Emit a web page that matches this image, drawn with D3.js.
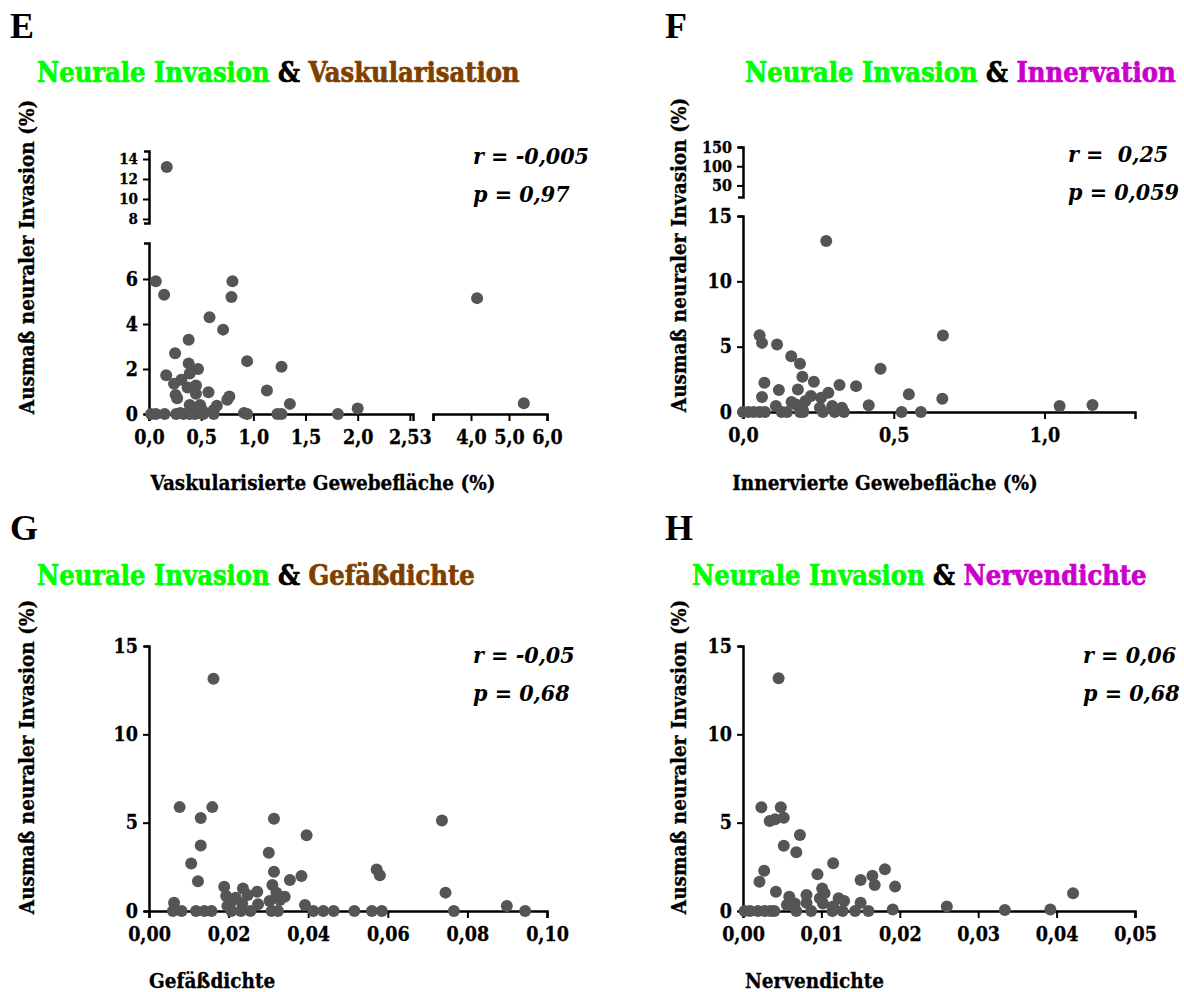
<!DOCTYPE html>
<html>
<head>
<meta charset="utf-8">
<script src="https://cdn.jsdelivr.net/npm/d3@7"></script>
<style>
  body { margin: 0; background: #fff; }
  svg text { font-family: 'DejaVu Serif Condensed', 'DejaVu Serif', serif; font-weight: bold; font-stretch: condensed; }
</style>
</head>
<body>
<svg id="chart" width="1184" height="992"></svg>
<script>
// E: Vaskularisierte Gewebeflaeche (%) vs. Ausmass neuraler Invasion (%)
var vaskX = [0.065, 0.145, 0.80, 0.79, 0.58, 0.71, 0.38, 0.25, 0.38, 0.47, 0.39, 0.94, 1.27, 0.165, 0.31, 0.24, 0.45, 0.37, 0.255, 0.27,
             0.45, 0.57, 1.13, 0.77, 0.75, 1.35, 0.65, 0.39, 0.49, 0.51, 0.62, 0.02, 0.065, 0.15, 0.26, 0.33, 0.39, 0.44, 0.52, 0.62,
             0.91, 0.94, 1.23, 1.27, 1.81, 0.30, 0.48, 2.0, 4.16, 5.39, 0.17];
var vaskY = [5.9, 5.3, 5.9, 5.2, 4.3, 3.75, 3.3, 2.7, 2.25, 2.0, 1.8, 2.35, 2.1, 1.72, 1.52, 1.34, 1.27, 1.18, 0.85, 0.7,
             0.9, 0.97, 1.04, 0.78, 0.63, 0.45, 0.37, 0.4, 0.4, 0.18, 0.18, 0, 0, 0, 0, 0, 0, 0, 0, 0,
             0.05, 0, 0, 0, 0, 0.05, 0.05, 0.25, 5.15, 0.48, 13.2];

// F: Innervierte Gewebeflaeche (%)
var innX = [0.276, 0.055, 0.063, 0.113, 0.663, 0.16, 0.189, 0.456, 0.197, 0.235, 0.071, 0.32, 0.375, 0.119, 0.182, 0.283, 0.55, 0.225, 0.259, 0.063,
            0.661, 0.161, 0.207, 0.109, 0.417, 1.05, 1.159, 0.296, 0.328, 0.255, 0.176, 0.198,
            0, 0.018, 0.036, 0.055, 0.073, 0.128, 0.146, 0.189, 0.2, 0.265, 0.304, 0.335, 0.526, 0.59];
var innY = [13.09, 5.87, 5.29, 5.16, 5.85, 4.27, 3.69, 3.31, 2.70, 2.31, 2.24, 2.06, 1.98, 1.68, 1.73, 1.47, 1.35, 1.22, 1.09, 1.14,
            1.02, 0.76, 0.84, 0.46, 0.51, 0.46, 0.53, 0.46, 0.33, 0.33, 0.58, 0.2,
            0, 0, 0, 0, 0, 0, 0, 0, 0, 0, 0, 0, 0, 0];

// G: Gefaessdichte
var gefX = [0.0162, 0.0077, 0.0159, 0.013, 0.0314, 0.0736, 0.0396, 0.013, 0.0301, 0.0106, 0.0314, 0.0572, 0.058, 0.0383, 0.0354, 0.0123, 0.031, 0.0189, 0.0236, 0.0272,
            0.0745, 0.0194, 0.0248, 0.0218, 0.0341, 0.032, 0.0303, 0.0329, 0.0274, 0.0205, 0.0234, 0.0197, 0.0063, 0.0392, 0.0899,
            0.006, 0.0082, 0.0118, 0.0139, 0.0157, 0.0207, 0.0231, 0.0255, 0.0308, 0.0324, 0.0413, 0.0438, 0.0464, 0.0516, 0.056, 0.0585, 0.0766, 0.0945];
var gefY = [13.14, 5.88, 5.88, 5.27, 5.22, 5.12, 4.29, 3.71, 3.30, 2.69, 2.22, 2.35, 2.03, 1.98, 1.75, 1.69, 1.47, 1.37, 1.28, 1.09,
            1.04, 0.85, 0.9, 0.75, 0.81, 1.04, 0.56, 0.62, 0.38, 0.47, 0.43, 0.28, 0.47, 0.34, 0.28,
            0, 0, 0, 0, 0, 0, 0, 0, 0, 0, 0, 0, 0, 0, 0, 0, 0, 0];

// H: Nervendichte
var nerX = [0.00454, 0.00234, 0.00482, 0.0034, 0.0041, 0.0052, 0.00726, 0.0052, 0.0068, 0.0115, 0.0027, 0.0095, 0.0181, 0.0165, 0.0021, 0.015, 0.0168, 0.0194, 0.0101, 0.0104,
            0.0042, 0.0081, 0.0059, 0.0421, 0.0098, 0.0122, 0.0129, 0.015, 0.0102, 0.0056, 0.0066, 0.0081, 0.0115, 0.026, 0.0191, 0.0334, 0.0392,
            0.0002, 0.0009, 0.0019, 0.0028, 0.0035, 0.004, 0.0068, 0.0087, 0.0114, 0.0127, 0.0143, 0.016];
var nerY = [13.17, 5.87, 5.87, 5.09, 5.19, 5.28, 4.30, 3.70, 3.32, 2.70, 2.28, 2.08, 2.36, 2.0, 1.66, 1.75, 1.47, 1.38, 1.28, 1.0,
            1.09, 0.91, 0.81, 1.0, 0.72, 0.72, 0.57, 0.47, 0.43, 0.34, 0.43, 0.47, 0.25, 0.25, 0.09, 0.06, 0.09,
            0, 0, 0, 0, 0, 0, 0, 0, 0, 0, 0, 0];

// tick values and labels
var yTicksLow = [0, 2, 4, 6];
var yTicksHigh = [8, 10, 12, 14];
var yTicksF = [0, 5, 10, 15];
var yTicksFHigh = [50, 100, 150];
var xTicksE = [0, 0.5, 1, 1.5, 2, 2.5];
var xTickLabelsE = ['0,0', '0,5', '1,0', '1,5', '2,0', '2,53'];
var xTicksE2 = [3, 4, 5, 6];
var xTickLabelsE2 = ['', '4,0', '5,0', '6,0'];
var xTicksF = [0, 0.5, 1];
var xTicksG = [0, 0.02, 0.04, 0.06, 0.08, 0.1];
var xTicksH = [0, 0.01, 0.02, 0.03, 0.04, 0.05];

var GREEN = '#00ff00', BROWN = '#7f3f00', MAGENTA = '#cc00cc', DOT = '#555555';

var svg = d3.select('#chart');

function comma(d, digits) { return d.toFixed(digits).replace('.', ','); }

function pickScale(scales, v) {
    for (var i = 0; i < scales.length; i++) {
        var dom = scales[i].domain();
        if (v >= Math.min(dom[0], dom[1]) && v <= Math.max(dom[0], dom[1])) return scales[i];
    }
    return scales[scales.length - 1];
}

function drawPanel(p) {
    var g = svg.append('g');

    // panel letter
    g.append('text').attr('x', p.lx).attr('y', p.ly)
        .style('font-family', "'Liberation Serif', serif").style('font-stretch', 'normal')
        .style('font-size', '36px').text(p.letter);

    // title, slightly heavier via a thin stroke
    var t = g.append('text').attr('x', p.tx).attr('y', p.ty).style('font-size', '27px').attr('stroke-width', 0.7);
    t.append('tspan').attr('fill', GREEN).attr('stroke', GREEN).text('Neurale Invasion ');
    t.append('tspan').attr('fill', '#000').attr('stroke', '#000').text('& ');
    t.append('tspan').attr('fill', p.color).attr('stroke', p.color).text(p.second);

    var xs = p.xSegs.map(function (s) { return d3.scaleLinear().domain(s.domain).range(s.range); });
    var ys = p.ySegs.map(function (s) { return d3.scaleLinear().domain(s.domain).range(s.range); });

    p.ySegs.forEach(function (s, i) {
        var ax = d3.axisLeft(ys[i]).tickValues(s.ticks).tickSizeInner(6).tickSizeOuter(5).tickPadding(5)
            .tickFormat(function (d) { return String(d); });
        var a = g.append('g').attr('transform', 'translate(' + p.x0 + ',0)').call(ax);
        styleAxis(a, s.font || '19.5px');
    });
    p.xSegs.forEach(function (s, i) {
        var ax = d3.axisBottom(xs[i]).tickValues(s.ticks).tickSizeInner(7).tickSizeOuter(7).tickPadding(9)
            .tickFormat(function (d, k) { return s.labels[k]; });
        var a = g.append('g').attr('transform', 'translate(0,' + p.y0 + ')').call(ax);
        styleAxis(a, '19.5px');
    });

    // axis titles
    g.append('text').attr('transform', 'translate(' + p.ylx + ',' + p.yly + ') rotate(-90)')
        .attr('text-anchor', 'middle').style('font-size', '20.5px').attr('stroke', '#000').attr('stroke-width', 0.3)
        .text('Ausmaß neuraler Invasion (%)');
    g.append('text').attr('x', p.xlx).attr('y', p.xly).attr('text-anchor', p.xlAnchor)
        .style('font-size', '20.5px').attr('stroke', '#000').attr('stroke-width', 0.3).text(p.xLabel);

    // statistics
    g.append('text').attr('x', p.sx).attr('y', p.sy).style('font-style', 'italic').style('font-size', '23px')
        .attr('xml:space', 'preserve').text(p.rText);
    g.append('text').attr('x', p.sx).attr('y', p.sy + 38).style('font-style', 'italic').style('font-size', '23px')
        .text(p.pText);

    var pts = p.xv.map(function (v, i) { return [v, p.yv[i]]; });
    g.append('g').selectAll('circle')
        .data(pts)
        .enter().append('circle')
        .attr('cx', function (d) { return pickScale(xs, d[0])(d[0]); })
        .attr('cy', function (d) { return pickScale(ys, d[1])(d[1]); })
        .attr('r', 6)
        .attr('fill', DOT);
}

function styleAxis(a, size) {
    a.select('.domain').attr('stroke', '#000').attr('stroke-width', 2.5);
    a.selectAll('.tick line').attr('stroke', '#000').attr('stroke-width', 2);
    a.selectAll('.tick text').attr('fill', '#000').style('font-size', size)
        .style('font-family', "'DejaVu Serif Condensed', 'DejaVu Serif', serif").style('font-weight', 'bold')
        .attr('stroke', '#000').attr('stroke-width', 0.3);
}

drawPanel({
    letter: 'E', lx: 10, ly: 38, tx: 37, ty: 82, second: 'Vaskularisation', color: BROWN,
    x0: 149, y0: 414,
    xSegs: [{ domain: [0, 2.53], range: [149, 413], ticks: xTicksE, labels: xTickLabelsE },
            { domain: [3, 6], range: [433, 547], ticks: xTicksE2, labels: xTickLabelsE2 }],
    ySegs: [{ domain: [0, 7.6], range: [414, 243], ticks: yTicksLow },
            { domain: [7.6, 14.8], range: [223, 151], ticks: yTicksHigh, font: '15px' }],
    ylx: 34, yly: 257, xlx: 323, xly: 490, xlAnchor: 'middle', xLabel: 'Vaskularisierte Gewebefläche (%)',
    sx: 473, sy: 164, rText: 'r = -0,005', pText: 'p = 0,97',
    xv: vaskX, yv: vaskY
});

drawPanel({
    letter: 'F', lx: 665, ly: 38, tx: 745, ty: 82, second: 'Innervation', color: MAGENTA,
    x0: 743, y0: 412,
    xSegs: [{ domain: [0, 1.3], range: [743, 1135], ticks: xTicksF, labels: ['0,0', '0,5', '1,0'] }],
    ySegs: [{ domain: [0, 15], range: [412, 216], ticks: yTicksF },
            { domain: [20, 150], range: [197, 147], ticks: yTicksFHigh, font: '16px' }],
    ylx: 686, yly: 255, xlx: 885, xly: 490, xlAnchor: 'middle', xLabel: 'Innervierte Gewebefläche (%)',
    sx: 1068, sy: 162, rText: 'r =  0,25', pText: 'p = 0,059',
    xv: innX, yv: innY
});

drawPanel({
    letter: 'G', lx: 10, ly: 540, tx: 37, ty: 585, second: 'Gefäßdichte', color: BROWN,
    x0: 149, y0: 911,
    xSegs: [{ domain: [0, 0.1], range: [149, 547], ticks: xTicksG, labels: xTicksG.map(function (d) { return comma(d, 2); }) }],
    ySegs: [{ domain: [0, 15], range: [911, 646], ticks: yTicksF }],
    ylx: 34, yly: 757, xlx: 149, xly: 988, xlAnchor: 'start', xLabel: 'Gefäßdichte',
    sx: 473, sy: 663, rText: 'r = -0,05', pText: 'p = 0,68',
    xv: gefX, yv: gefY
});

drawPanel({
    letter: 'H', lx: 665, ly: 540, tx: 692, ty: 585, second: 'Nervendichte', color: MAGENTA,
    x0: 743, y0: 911,
    xSegs: [{ domain: [0, 0.05], range: [743, 1135], ticks: xTicksH, labels: xTicksH.map(function (d) { return comma(d, 2); }) }],
    ySegs: [{ domain: [0, 15], range: [911, 646], ticks: yTicksF }],
    ylx: 686, yly: 757, xlx: 745, xly: 988, xlAnchor: 'start', xLabel: 'Nervendichte',
    sx: 1083, sy: 663, rText: 'r = 0,06', pText: 'p = 0,68',
    xv: nerX, yv: nerY
});
</script>
</body>
</html>
